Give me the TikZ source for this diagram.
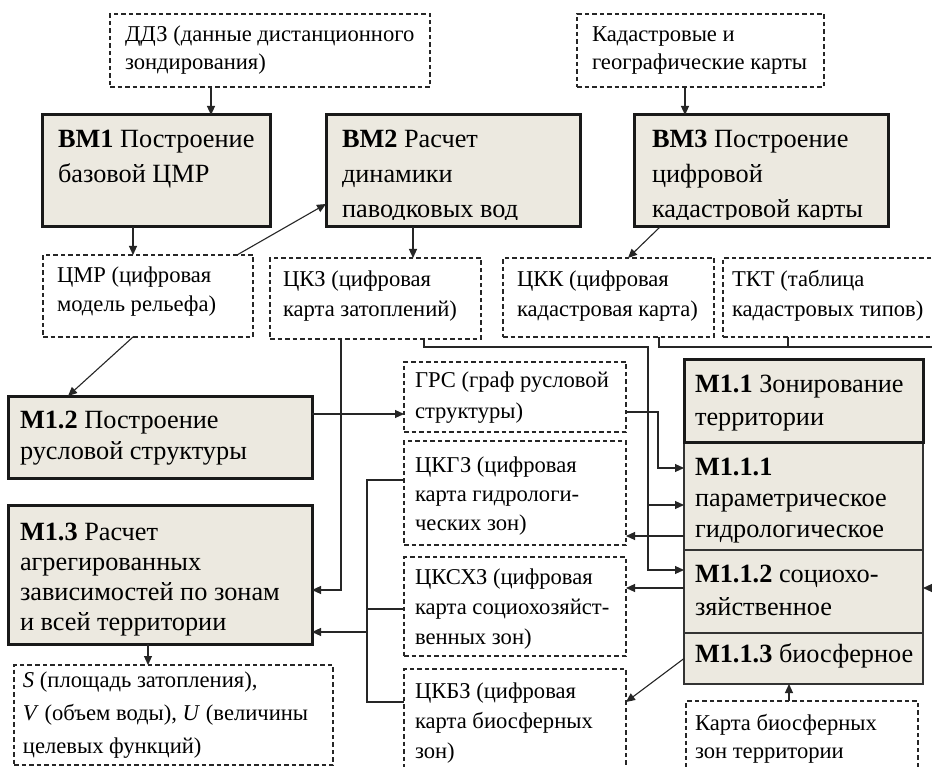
\documentclass[tikz,border=0pt]{standalone}
\usepackage{fontspec}
\setmainfont{Liberation Serif}
\usetikzlibrary{arrows.meta}
\definecolor{boxfill}{RGB}{236,233,224}
\tikzset{
  dbox/.style={draw=black!85, dash pattern=on 4.5pt off 3pt, line width=1.1pt, inner sep=0pt, outer sep=0pt},
  tbox/.style={draw=black!90, fill=boxfill, line width=3pt, inner sep=0pt, outer sep=0pt},
  sbox/.style={draw=black!80, fill=boxfill, line width=1.5pt, inner sep=0pt, outer sep=0pt},
  ln/.style={draw=black!85, line width=1.1pt},
  arr/.style={ln, -{Triangle[length=9pt,width=8pt]}},
}
\newcommand\bigsz{26.3}
\newcommand\smsz{22.6}
% name, x1, y1, x2, y2, style
\newcommand\mybox[6]{\node[#6, minimum width={(#4)-(#2)}, minimum height={(#5)-(#3)}] (#1) at ({((#2)+(#4))/2},{((#3)+(#5))/2}) {};}
% name, x, baseline, size, skip, text
\newcommand\mytext[6]{\node[anchor=base west, inner sep=0pt, outer sep=0pt] (#1) at (#2,#3) {\parbox[t]{380pt}{\fontsize{#4}{#5}\selectfont\raggedright #6}};}
\begin{document}
\begin{tikzpicture}[x=1pt,y=-1pt]
\fill[white] (0,0) rectangle (932,767);
\useasboundingbox (0,0) rectangle (932,767);
% boxes
\mybox{ddz}{110}{14}{430}{87}{dbox}
\mybox{kad}{577}{14}{824}{87}{dbox}
\mybox{bm1}{42}{115}{270}{227}{tbox}
\mybox{bm2}{326}{115}{580}{227}{tbox}
\mybox{bm3}{634}{115}{888}{227}{tbox}
\mybox{cmr}{43}{255}{253}{337}{dbox}
\mybox{ckz}{270}{258}{481}{339}{dbox}
\mybox{ckk}{503}{258}{714}{337}{dbox}
\mybox{tkt}{723}{258}{945}{337}{dbox}
\mybox{grs}{404}{362}{626}{432}{dbox}
\mybox{ckgz}{404}{441}{626}{545}{dbox}
\mybox{cksxz}{404}{557}{626}{656}{dbox}
\mybox{ckbz}{404}{669}{626}{790}{dbox}
\mybox{m12}{8}{396}{312}{478}{tbox}
\mybox{m13}{8}{505}{312}{644}{tbox}
\mybox{out}{14}{665}{333}{765}{dbox}
\mybox{m111}{684}{442}{923}{550}{sbox}
\mybox{m112}{684}{550}{923}{633}{sbox}
\mybox{m113}{684}{633}{923}{684}{sbox}
\mybox{m11}{684}{360}{923}{442}{tbox}
\mybox{kbz}{686}{701}{918}{790}{dbox}
% texts
\mytext{tddz}{125}{42}{\smsz}{28}{ДДЗ (данные дистанционного\\зондирования)}
\mytext{tkad}{592}{42}{\smsz}{28}{Кадастровые и\\географические карты}
\begin{scope}
\clip (bm1.north west) rectangle ([yshift=7pt]bm1.south east);
\mytext{tbm1}{58}{148}{\bigsz}{35}{\textbf{ВМ1} Построение\\базовой ЦМР}
\end{scope}
\begin{scope}
\clip (bm2.north west) rectangle ([yshift=7pt]bm2.south east);
\mytext{tbm2}{342}{148}{\bigsz}{35}{\textbf{ВМ2} Расчет\\динамики\\паводковых вод}
\end{scope}
\begin{scope}
\clip (bm3.north west) rectangle ([yshift=7pt]bm3.south east);
\mytext{tbm3}{652}{148}{\bigsz}{35}{\textbf{ВМ3} Построение\\цифровой\\кадастровой карты}
\end{scope}
\mytext{tcmr}{57}{283}{\smsz}{29}{ЦМР (цифровая\\модель рельефа)}
\mytext{tckz}{283}{287}{\smsz}{30}{ЦКЗ (цифровая\\карта затоплений)}
\mytext{tckk}{517}{287}{\smsz}{30}{ЦКК (цифровая\\кадастровая карта)}
\mytext{ttkt}{732}{287}{\smsz}{30}{ТКТ (таблица\\кадастровых типов)}
\mytext{tgrs}{415}{387}{\smsz}{32}{ГРС (граф русловой\\структуры)}
\mytext{tckgz}{415}{472}{\smsz}{29}{ЦКГЗ (цифровая\\карта гидрологи-\\ческих зон)}
\mytext{tcksxz}{415}{584}{\smsz}{30}{ЦКСХЗ (цифровая\\карта социохозяйст-\\венных зон)}
\mytext{tckbz}{415}{698}{\smsz}{30}{ЦКБЗ (цифровая\\карта биосферных\\зон)}
\mytext{tm12}{20}{428}{\bigsz}{32}{\textbf{М1.2} Построение\\русловой структуры}
\mytext{tm13}{20}{540}{\bigsz}{30}{\textbf{М1.3} Расчет\\агрегированных\\зависимостей по зонам\\и всей территории}
\mytext{tout}{23}{687}{\smsz}{33}{\textit{S} (площадь затопления),\\\textit{V} (объем воды), \textit{U} (величины\\целевых функций)}
\mytext{tm11}{695}{392}{\bigsz}{33}{\textbf{М1.1} Зонирование\\территории}
\mytext{tm111}{695}{475}{\bigsz}{31}{\textbf{М1.1.1}\\параметрическое\\гидрологическое}
\mytext{tm112}{695}{582}{\bigsz}{33}{\textbf{М1.1.2} социохо-\\зяйственное}
\mytext{tm113}{695}{662}{\bigsz}{33}{\textbf{М1.1.3} биосферное}
\mytext{tkbz}{695}{730}{\smsz}{28}{Карта биосферных\\зон территории}
% connectors
\draw[arr] ([xshift=101pt]ddz.south west) -- ([xshift=169pt]bm1.north west);
\draw[arr] ([xshift=108pt]kad.south west) -- ([xshift=51pt]bm3.north west);
\draw[arr] ([xshift=91pt]bm1.south west) -- ([xshift=90pt]cmr.north west);
\draw[arr] ([xshift=-16pt]cmr.north east) -- ([yshift=-33pt]bm2.west);
\draw[arr] ([xshift=87pt]bm2.south west) -- ([xshift=143pt]ckz.north west);
\draw[arr] ([xshift=26pt]bm3.south west) -- ([xshift=125pt]ckk.north west);
\draw[arr] ([xshift=90pt]cmr.south west) -- ([xshift=60pt]m12.north west);
\draw[arr] ([yshift=23pt]m12.east) -- ([yshift=-17pt]grs.west);
\draw[arr] ([yshift=-15pt]grs.east) -- ++(32,0) |- ([yshift=28pt]m111.west);
\draw[arr] ([xshift=71pt]ckz.south west) |- ([yshift=-15.5pt]m13.east);
\coordinate (j1) at (648,347);
\coordinate (j2) at (648,505);
\draw[arr] ([xshift=154pt]ckz.south west) |- (j1) |- ([yshift=21.5pt]m112.west);
\draw[arr] (j2) -- (j2 -| m111.west);
\coordinate (j3) at (945,347);
\draw[arr] ([xshift=156pt]ckk.south west) |- (j3) |- ([yshift=3.5pt]m112.east);
\draw[ln] ([xshift=65pt]tkt.south west) -- ++(0,10);
\draw[arr] ([yshift=-40pt]m111.west) -- ([yshift=-43pt]ckgz.east);
\draw[arr] ([yshift=3.5pt]m112.west) -- ([yshift=18.5pt]cksxz.east);
\draw[arr] (m113.west) -- ([yshift=27.5pt]ckbz.east);
\draw[arr] ([xshift=103pt]kbz.north west) -- ([xshift=-14.5pt]m113.south);
\draw[ln] ([yshift=13pt]ckgz.west) -- ++(-37,0) |- ([yshift=27.5pt]ckbz.west);
\draw[ln] ([yshift=-2.5pt]cksxz.west) -- ++(-37,0);
\coordinate (b2) at (367,632);
\draw[arr] (b2) -- (b2 -| m13.east);
\draw[arr] ([xshift=140pt]m13.south west) -- ([xshift=134pt]out.north west);
\end{tikzpicture}
\end{document}
